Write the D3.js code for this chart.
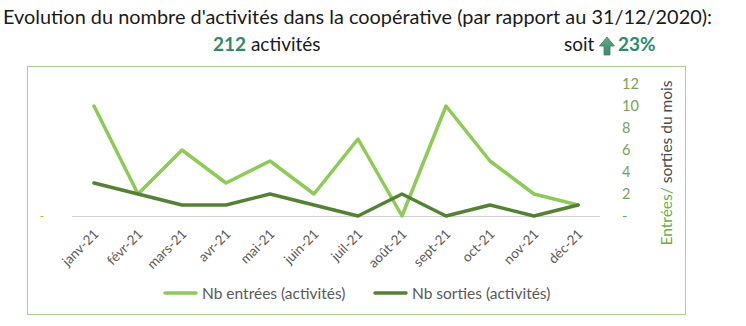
<!DOCTYPE html>
<html><head><meta charset="utf-8">
<script src="https://cdn.jsdelivr.net/npm/d3@7/dist/d3.min.js"></script>
<style>body{margin:0;background:#fff;}svg{display:block;font-family:Lato,"Open Sans",sans-serif;}</style>
</head><body>
<svg id="c" width="746" height="326"></svg>
<script>
const months = ["janv-21","févr-21","mars-21","avr-21","mai-21","juin-21","juil-21","août-21","sept-21","oct-21","nov-21","déc-21"];
const entrees = [10,2,6,3,5,2,7,0,10,5,2,1];
const sorties = [3,2,1,1,2,1,0,2,0,1,0,1];
const yTicks = [0,2,4,6,8,10,12];
const seriesNames = ["Nb entrées (activités)","Nb sorties (activités)"];
const totalActivites = "212";
const pct = "23%";

const svg = d3.select("#c");
const cLight = "#8CCB55", cDark = "#548235";

// title
svg.append("text").attr("x",3).attr("y",24).attr("font-size",19).attr("fill","#1a1a1a")
  .attr("textLength",709).attr("lengthAdjust","spacingAndGlyphs")
  .text("Evolution du nombre d'activités dans la coopérative (par rapport au 31/12/2020):");
const l2 = svg.append("text").attr("x",213).attr("y",51).attr("font-size",19).attr("fill","#1a1a1a");
l2.append("tspan").attr("font-weight","bold").attr("fill","#2E8B6A").text(totalActivites);
l2.append("tspan").text(" activités");
svg.append("text").attr("x",564).attr("y",51).attr("font-size",19).attr("fill","#1a1a1a").text("soit");
// arrow
const defs = svg.append("defs");
const g = defs.append("linearGradient").attr("id","ag").attr("x1",0).attr("x2",0).attr("y1",0).attr("y2",1);
g.append("stop").attr("offset","0%").attr("stop-color","#5FA98A");
g.append("stop").attr("offset","100%").attr("stop-color","#3F8A6A");
svg.append("path").attr("d","M607,37 L614.5,46 L610,46 L610,55 L604,55 L604,46 L599.5,46 Z")
  .attr("fill","url(#ag)").attr("stroke","#3E7E62").attr("stroke-width",0.8);
svg.append("text").attr("x",618).attr("y",51).attr("font-size",19).attr("font-weight","bold").attr("fill","#2E8B6A").text(pct);

// box
svg.append("rect").attr("x",27.5).attr("y",66.5).attr("width",658).attr("height",248)
  .attr("fill","none").attr("stroke","#A9D18E").attr("stroke-width",1);

const x = d3.scalePoint().domain(months).range([94,578]);
const y = d3.scaleLinear().domain([0,12]).range([216,84]);

// baseline
svg.append("line").attr("x1",72).attr("x2",600).attr("y1",216.5).attr("y2",216.5)
  .attr("stroke","#D0D0D0").attr("stroke-width",1);
// left zero "-"
svg.append("text").attr("x",42).attr("y",220).attr("font-size",12).attr("fill","#C9A227").attr("text-anchor","middle").text("-");

// right axis
const ra = svg.append("g").attr("transform","translate(600,0)")
  .call(d3.axisRight(y).tickValues(yTicks).tickSize(0).tickPadding(22).tickFormat(d => d===0 ? "-" : d));
ra.select(".domain").remove();
ra.selectAll("text").attr("font-size",14.5).attr("fill","#7BA05B").attr("font-family","Lato,sans-serif");

// axis title
const at = svg.append("text").attr("transform","translate(672,163) rotate(-90)").attr("text-anchor","middle").attr("font-size",15.5);
at.append("tspan").attr("fill","#70AD47").text("Entrées/");
at.append("tspan").attr("fill","#4A4A4A").text(" sorties du mois");

// x axis labels
const xa = svg.append("g").attr("transform","translate(0,216)")
  .call(d3.axisBottom(x).tickSize(0).tickPadding(0));
xa.select(".domain").remove();
xa.selectAll("text").attr("font-size",13.5).attr("fill","#595959").attr("font-family","Lato,sans-serif")
  .attr("text-anchor","end").attr("dy",0).attr("transform","translate(5,19) rotate(-45)");

const line = d3.line().x((d,i)=>x(months[i])).y(d=>y(d));
svg.append("path").datum(entrees).attr("d",line).attr("fill","none").attr("stroke",cLight)
  .attr("stroke-width",3.5).attr("stroke-linejoin","round").attr("stroke-linecap","round");
svg.append("path").datum(sorties).attr("d",line).attr("fill","none").attr("stroke",cDark)
  .attr("stroke-width",3.5).attr("stroke-linejoin","round").attr("stroke-linecap","round");

// legend
const leg = [{n:seriesNames[0],c:cLight,x:165},{n:seriesNames[1],c:cDark,x:375}];
leg.forEach(d=>{
  svg.append("line").attr("x1",d.x).attr("x2",d.x+31).attr("y1",293).attr("y2",293)
    .attr("stroke",d.c).attr("stroke-width",3.5).attr("stroke-linecap","round");
  svg.append("text").attr("x",d.x+37).attr("y",298.5).attr("font-size",15.5).attr("fill","#595959").text(d.n);
});
</script>
</body></html>
